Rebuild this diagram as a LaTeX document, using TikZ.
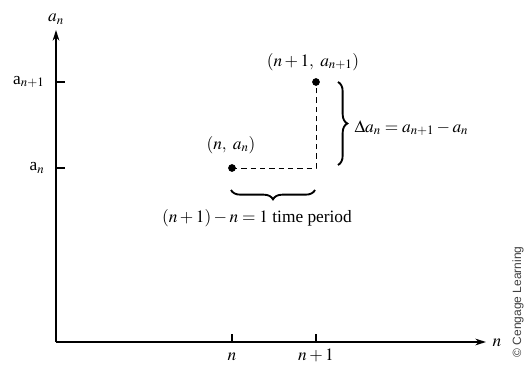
\documentclass[tikz,border=0pt]{standalone}
\usepackage{amsmath}
\usepackage{mathptmx}
\usepackage[no-math]{fontspec}
\setmainfont{Liberation Serif}
\setsansfont{Liberation Sans}
\usetikzlibrary{decorations.pathreplacing, arrows.meta}

\begin{document}
\begin{tikzpicture}[>={Stealth[length=8pt, width=5pt]}, x=0.75pt, y=0.75pt,
    axis/.style={line width=1.1pt},
    tick/.style={line width=0.8pt},
    dot/.style={circle, fill=black, inner sep=0pt, minimum size=5.8pt},
    guide/.style={line width=0.7pt, dash pattern=on 4pt off 3pt},
    bracket/.style={decorate, decoration={brace, amplitude=7pt}, line width=1.4pt},
    lbl/.style={font=\fontsize{13}{15}\selectfont, inner sep=1pt}]
    \useasboundingbox (0,0) rectangle (532,365);

    % axes
    \coordinate (O) at (56,23);
    \coordinate (ytop) at (56,335);
    \coordinate (xend) at (486,23);
    \draw[->, axis] (O) -- (ytop);
    \draw[->, axis] (O) -- (xend);
    \foreach \x in {232,316}
        \draw[tick] (\x,23) -- ++(0,8);
    \foreach \y in {197,283}
        \draw[tick] (56,\y) -- ++(9,0);

    \node[lbl, anchor=south] (ylab) at (56,339) {$a_n$};
    \node[lbl, anchor=west] (xlab) at (491,22) {$n$};
    \node[lbl, anchor=base] (xn) at (232,5) {$n$};
    \node[lbl, anchor=base] (xn1) at (316,5) {$n + 1$};
    \node[lbl, anchor=east] (yan1) at (46,283) {a$_{n+1}$};
    \node[lbl, anchor=east] (yan) at (46,197) {a$_n$};

    % the two points
    \node[dot] (pn) at (232,197) {};
    \node[dot] (pn1) at (316,283) {};
    \coordinate (corner) at (316,197);
    \draw[guide] (pn.center) -- (corner) -- (pn1.center);
    \node[lbl] (lpn) at (231,220) {$(n,\ a_n)$};
    \node[lbl] (lpn1) at (313,303) {$(n + 1,\ a_{n+1})$};

    % braces
    \coordinate (vb1) at (338,283);
    \coordinate (vb2) at (338,200);
    \coordinate (hb1) at (315,175);
    \coordinate (hb2) at (231,175);
    \draw[bracket] (vb1) -- (vb2);
    \draw[bracket] (hb1) -- (hb2);
    \node[lbl, anchor=west] (dlab) at (353,237) {$\Delta a_n = a_{n+1} - a_n$};
    \node[lbl] (tlab) at (257,147) {$(n + 1) - n = 1$ time period};

    \node[rotate=90, font=\sffamily\small, text=black!75] (copy) at (518,63) {\textcopyright\ Cengage Learning};
\end{tikzpicture}
\end{document}
